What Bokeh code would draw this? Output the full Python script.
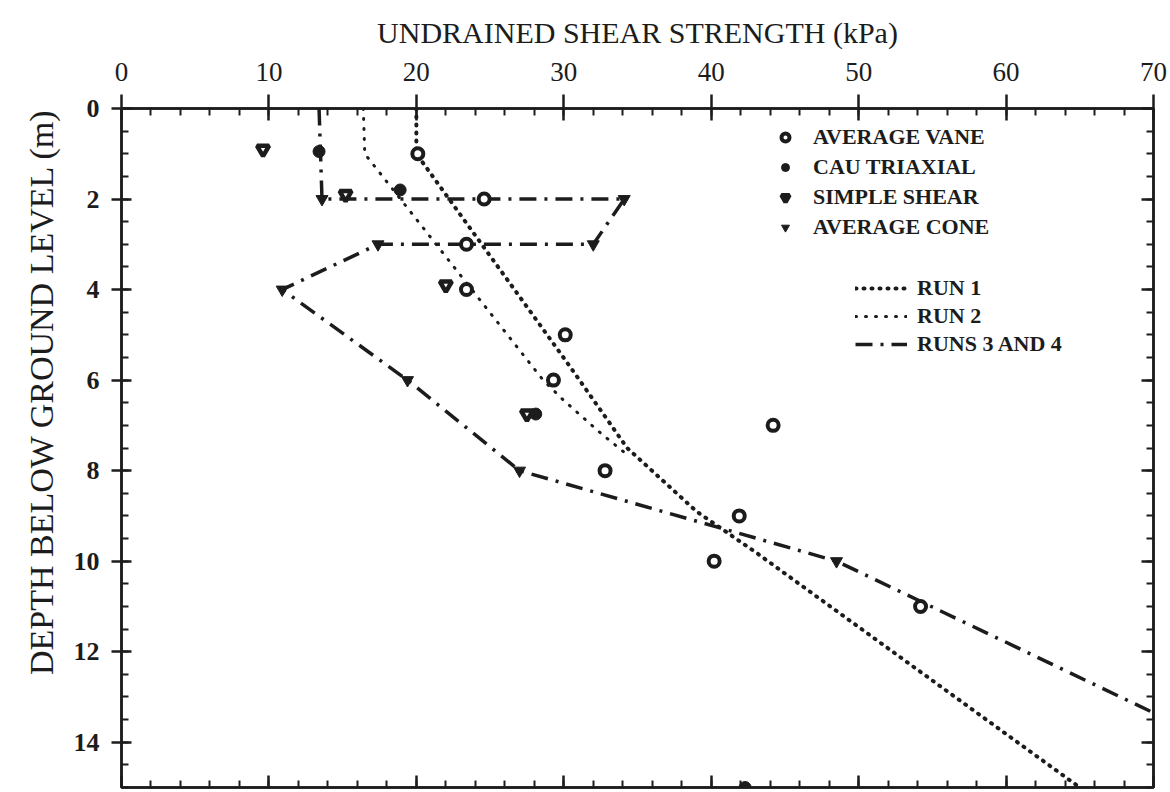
from bokeh.plotting import figure
from bokeh.models import (LinearAxis, Range1d, Legend, LegendItem, Title,
                          SingleIntervalTicker)
from bokeh.embed import file_html
from bokeh.resources import INLINE

# ---------------- data ----------------
x_major = 10          # kPa between labelled ticks
y_major = 2           # m between labelled ticks

vane_x = [20.1, 24.6, 23.4, 23.4, 30.1, 29.3, 44.2, 32.8, 41.9, 40.2, 54.2]
vane_y = [1.0, 2.0, 3.0, 4.0, 5.0, 6.0, 7.0, 8.0, 9.0, 10.0, 11.0]

cau_x = [13.4, 18.9, 28.1, 42.3]
cau_y = [0.95, 1.8, 6.75, 15.0]

shear_x = [9.6, 15.2, 22.0, 27.5]
shear_y = [0.9, 1.9, 3.9, 6.75]

cone_x = [13.6, 34.1, 32.0, 17.4, 10.9, 19.4, 27.0, 48.5]
cone_y = [2.0, 2.0, 3.0, 3.0, 4.0, 6.0, 8.0, 10.0]

run1_x = [20.0, 20.0, 30.2, 34.3, 39.0, 43.0, 65.0]
run1_y = [0.0, 1.0, 5.6, 7.5, 8.9, 9.8, 15.0]

run2_x = [16.4, 16.5, 28.6, 30.0, 32.6, 34.5]
run2_y = [0.0, 1.0, 6.0, 6.45, 7.2, 7.7]

run34_x = [13.4, 13.6, 34.1, 32.0, 17.4, 10.9, 19.4, 27.0, 48.5, 70.0]
run34_y = [0.0, 2.0, 2.0, 3.0, 3.0, 4.0, 6.0, 8.0, 10.0, 13.35]

INK = "#1c1c1c"
SERIF = "Liberation Serif"

# ---------------- figure ----------------
p = figure(width=1170, height=792,
           x_range=Range1d(0, 70), y_range=Range1d(15, 0),
           x_axis_location="above",
           output_backend="svg", toolbar_location=None,
           min_border_left=121, min_border_right=17,
           min_border_top=108, min_border_bottom=5)
p.grid.visible = False
p.outline_line_color = INK
p.outline_line_width = 2.5
p.background_fill_color = "white"
p.border_fill_color = "white"

# top axis
xt = p.xaxis[0]
xt.ticker = SingleIntervalTicker(interval=x_major, num_minor_ticks=5)
xt.axis_label = "UNDRAINED SHEAR STRENGTH (kPa)"
xt.axis_label_text_font = SERIF
xt.axis_label_text_font_style = "normal"
xt.axis_label_text_font_size = "30px"
xt.axis_label_text_color = INK
xt.axis_label_standoff = 11
xt.major_label_text_font = SERIF
xt.major_label_text_font_size = "27px"
xt.major_label_text_color = INK
xt.major_label_standoff = 14
xt.axis_line_width = 2.5
xt.axis_line_color = INK
xt.major_tick_in = 12
xt.major_tick_out = 14
xt.major_tick_line_width = 2.5
xt.major_tick_line_color = INK
xt.minor_tick_in = 7
xt.minor_tick_out = 0
xt.minor_tick_line_width = 2
xt.minor_tick_line_color = INK

# left axis
yl = p.yaxis[0]
yl.ticker = SingleIntervalTicker(interval=y_major, num_minor_ticks=4)
yl.major_label_text_font = SERIF
yl.major_label_text_font_style = "bold"
yl.major_label_text_font_size = "26px"
yl.major_label_text_color = INK
yl.major_label_standoff = 12
yl.axis_line_width = 2.5
yl.axis_line_color = INK
yl.major_tick_in = 10
yl.major_tick_out = 10
yl.major_tick_line_width = 2.5
yl.major_tick_line_color = INK
yl.minor_tick_in = 7
yl.minor_tick_out = 0
yl.minor_tick_line_width = 2
yl.minor_tick_line_color = INK

# bottom and right axes (ticks only, no labels)
tick_only = dict(major_label_text_font_size="1px", major_label_text_color=None,
                 major_label_standoff=0,
                 axis_line_width=2.5, axis_line_color=INK,
                 major_tick_in=12, major_tick_out=0, major_tick_line_width=2.5,
                 major_tick_line_color=INK,
                 minor_tick_in=7, minor_tick_out=0, minor_tick_line_width=2,
                 minor_tick_line_color=INK)
xb = LinearAxis(ticker=SingleIntervalTicker(interval=x_major, num_minor_ticks=5),
                **tick_only)
p.add_layout(xb, "below")
yr = LinearAxis(ticker=SingleIntervalTicker(interval=y_major, num_minor_ticks=4),
                **tick_only)
p.add_layout(yr, "right")

# vertical axis title (outside the left axis, starting at the top of the frame)
p.add_layout(Title(text="DEPTH BELOW GROUND LEVEL (m)", align="right",
                   standoff=22, text_font=SERIF,
                   text_font_size="34px", text_font_style="normal",
                   text_color=INK), "left")

# ---------------- lines ----------------
r_run1 = p.line(run1_x, run1_y, line_color=INK, line_width=4,
                line_dash="1 7", line_cap="round")
r_run2 = p.line(run2_x, run2_y, line_color=INK, line_width=3,
                line_dash="1 9", line_cap="round")
r_run34 = p.line(run34_x, run34_y, line_color=INK, line_width=3.5,
                 line_dash="17 8 3 8")

# ---------------- markers ----------------
r_vane = p.scatter(vane_x, vane_y, marker="circle", size=11,
                   fill_color="white", line_color=INK, line_width=4)
r_cau = p.scatter(cau_x, cau_y, marker="circle", size=12,
                  fill_color=INK, line_color=INK)
r_shear = p.scatter(shear_x, shear_y, marker="inverted_triangle", size=12,
                    fill_color="white", line_color=INK, line_width=4.5)
r_cone = p.scatter(cone_x, cone_y, marker="inverted_triangle", size=12,
                   fill_color=INK, line_color=INK)

# ---------------- legends ----------------
common = dict(background_fill_alpha=0, border_line_color=None, padding=0,
              margin=0, label_text_font=SERIF, label_text_font_style="bold",
              label_text_font_size="22px", label_text_color=INK,
              label_height=20, glyph_height=20)

leg1 = Legend(items=[LegendItem(label="AVERAGE VANE", renderers=[r_vane]),
                     LegendItem(label="CAU TRIAXIAL", renderers=[r_cau]),
                     LegendItem(label="SIMPLE SHEAR", renderers=[r_shear]),
                     LegendItem(label="AVERAGE CONE", renderers=[r_cone])],
              location=(652, 547), glyph_width=24, label_standoff=16,
              spacing=4, **common)
p.add_layout(leg1)

leg2 = Legend(items=[LegendItem(label="RUN 1", renderers=[r_run1]),
                     LegendItem(label="RUN 2", renderers=[r_run2]),
                     LegendItem(label="RUNS 3 AND 4", renderers=[r_run34])],
              location=(734, 430), glyph_width=52, label_standoff=10,
              spacing=2, **common)
p.add_layout(leg2)

open("out.html", "w").write(file_html(p, INLINE))
